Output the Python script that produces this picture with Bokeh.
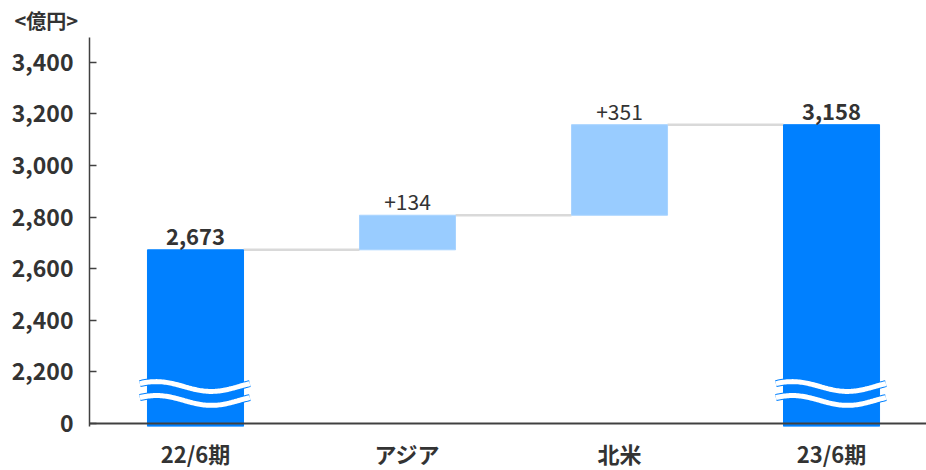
import numpy as np
from bokeh.plotting import figure
from bokeh.models import FixedTicker, Range1d, Span
from bokeh.core.properties import value
from bokeh.embed import file_html
from bokeh.resources import INLINE

# ---- data ----
categories = ["22/6期", "アジア", "北米", "23/6期"]
start_value = 2673
deltas = [134, 351]
end_value = 3158
value_labels = ["2,673", "+134", "+351", "3,158"]
y_ticks = [0, 2200, 2400, 2600, 2800, 3000, 3200, 3400]
unit_label = "<億円>"
BREAK_AT = 2000  # axis is broken between 0 and 2,200

FONT = "Noto Sans CJK JP"
TXT = "#333333"
DARK = "#0080FF"
LIGHT = "#99CCFF"


def f(v):
    return v - BREAK_AT if v >= BREAK_AT else v * 0


# waterfall geometry derived from data
cum = [start_value]
for d in deltas:
    cum.append(cum[-1] + d)
xs = list(range(len(categories)))
W = 0.453
below = -12  # totals drawn slightly below baseline

tot_x = [xs[0], xs[-1]]
tot_top = [f(start_value), f(end_value)]
tot_bot = [below, below]
flt_x = xs[1:-1]
flt_bot = [f(c) for c in cum[:-1]]
flt_top = [f(c) for c in cum[1:]]

p = figure(frame_width=837, frame_height=389, output_backend="svg", toolbar_location=None,
           x_range=Range1d(-0.5, 3.448), y_range=Range1d(below, 1496),
           min_border_left=89, min_border_right=0, min_border_top=37, min_border_bottom=40,
           title=unit_label)
p.outline_line_color = None
p.xgrid.visible = False
p.ygrid.visible = False
p.background_fill_color = "white"

p.title.text_font = FONT
p.title.text_font_size = "20px"
p.title.text_font_style = "bold"
p.title.text_color = TXT
p.title.align = "left"
p.title.offset = -75
p.title.standoff = 6

# connectors
levels = [start_value] + cum[1:]
p.segment(x0=[x + W / 2 for x in xs[:-1]], x1=[x + 1 - W / 2 for x in xs[:-1]],
          y0=[f(v) for v in levels], y1=[f(v) for v in levels],
          line_color="#d9d9d9", line_width=2.5)

p.vbar(x=tot_x, bottom=tot_bot, top=tot_top, width=W, fill_color=DARK, line_color=DARK, line_width=1)
p.vbar(x=flt_x, bottom=flt_bot, top=flt_top, width=W, fill_color=LIGHT, line_color="#a8d3ff", line_width=1)

# break waves on total bars
for bx in tot_x:
    wx = np.linspace(bx - W / 2 - 0.036, bx + W / 2 + 0.03, 80)
    t = (wx - wx[0]) / (wx[-1] - wx[0])
    for c in (143, 89):
        wy = c + 19 * np.cos(2 * np.pi * (t - 0.15))
        p.line(wx, wy, line_color=DARK, line_width=7)
        p.line(wx, wy, line_color="white", line_width=5)

# value labels
tops = [f(start_value), f(cum[1]), f(cum[2]), f(end_value)]
p.text(x=tot_x, y=[tops[0], tops[-1]], text=[value_labels[0], value_labels[-1]],
       text_font=value(FONT), text_font_size="22px", text_font_style="bold",
       text_color=TXT, text_align="center", text_baseline="bottom", y_offset=-5)
p.text(x=flt_x, y=tops[1:-1], text=value_labels[1:-1],
       text_font=value(FONT), text_font_size="21px", text_font_style="normal",
       text_color=TXT, text_align="center", text_baseline="bottom", y_offset=-5)

# baseline
p.add_layout(Span(location=0, dimension="width", line_color="#404040", line_width=2))

# axes
p.yaxis.ticker = FixedTicker(ticks=[f(v) for v in y_ticks])
p.yaxis.major_label_overrides = {f(v): f"{v:,}" for v in y_ticks}
p.yaxis.axis_line_color = "#404040"
p.yaxis.axis_line_width = 1.5
p.yaxis.major_tick_line_color = "#404040"
p.yaxis.major_tick_line_width = 1.5
p.yaxis.major_tick_in = 7
p.yaxis.major_tick_out = 0
p.yaxis.minor_tick_line_color = None
p.yaxis.major_label_text_font = FONT
p.yaxis.major_label_text_font_size = "23px"
p.yaxis.major_label_text_font_style = "bold"
p.yaxis.major_label_text_color = TXT
p.yaxis.major_label_standoff = 16

p.xaxis.ticker = FixedTicker(ticks=xs)
p.xaxis.major_label_overrides = {x: c for x, c in zip(xs, categories)}
p.xaxis.axis_line_color = None
p.xaxis.major_tick_line_color = None
p.xaxis.minor_tick_line_color = None
p.xaxis.major_tick_in = 0
p.xaxis.major_tick_out = 0
p.xaxis.major_label_text_font = FONT
p.xaxis.major_label_text_font_size = "22px"
p.xaxis.major_label_text_font_style = "bold"
p.xaxis.major_label_text_color = TXT
p.xaxis.major_label_standoff = 10

open("out.html", "w").write(file_html(p, INLINE))
